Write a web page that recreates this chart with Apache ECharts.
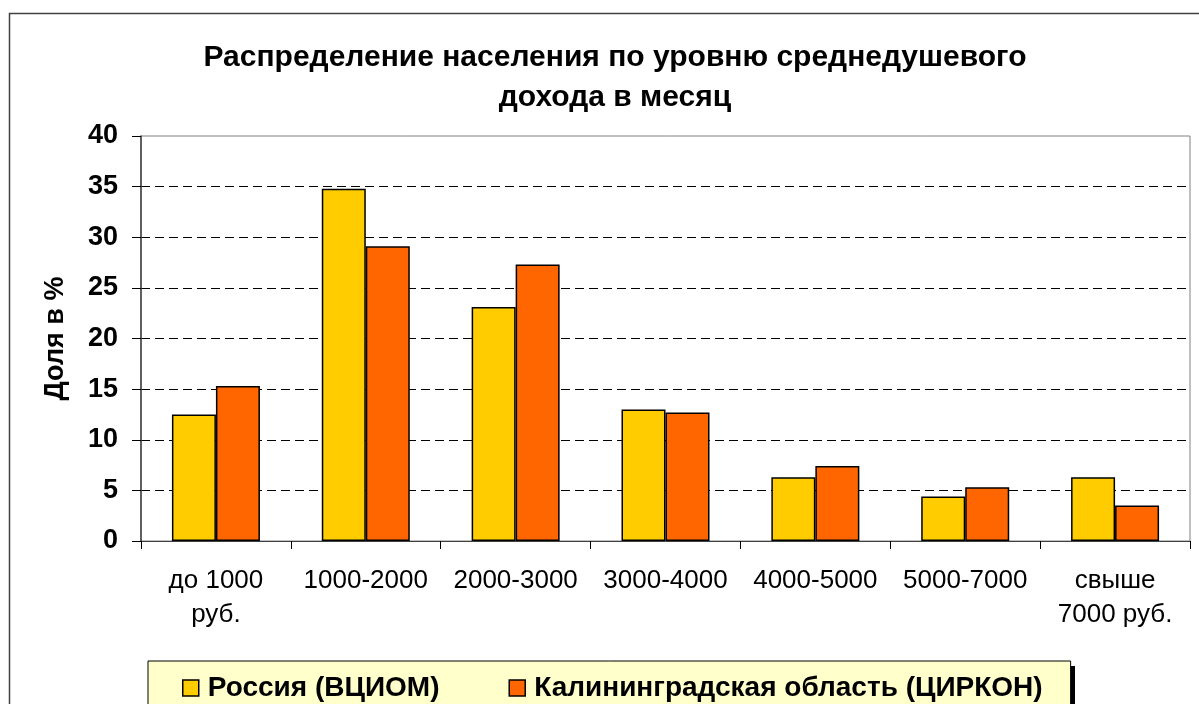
<!DOCTYPE html>
<html>
<head>
<meta charset="utf-8">
<script src="https://cdn.jsdelivr.net/npm/echarts@6/dist/echarts.min.js"></script>
<style>
  html, body { margin: 0; padding: 0; background: #fff; }
  #chart { width: 1199px; height: 704px; }
</style>
</head>
<body>
<div id="chart"></div>
<script>
var categories = ['до 1000\nруб.', '1000-2000', '2000-3000', '3000-4000', '4000-5000', '5000-7000', 'свыше\n7000 руб.'];
var russia = [12.5, 34.8, 23.1, 13.0, 6.3, 4.4, 6.3];
var kaliningrad = [15.3, 29.1, 27.3, 12.7, 7.4, 5.3, 3.5];
var seriesNames = ['Россия (ВЦИОМ)', 'Калининградская область (ЦИРКОН)'];

var FONT = "'Liberation Sans', Arial, sans-serif";

var chart = echarts.init(document.getElementById('chart'));

var option = {
    backgroundColor: '#fff',
    animation: false,
    textStyle: { fontFamily: FONT },
    title: {
        text: 'Распределение населения по уровню среднедушевого\nдохода в месяц',
        left: 610,
        top: 33,
        textAlign: 'center',
        textStyle: {
            fontFamily: FONT,
            fontSize: 30,
            fontWeight: 'bold',
            color: '#000',
            lineHeight: 40
        }
    },
    graphic: [{
        // рамка всей диаграммы
        type: 'rect',
        shape: { x: 9.5, y: 13.5, width: 1300, height: 800 },
        style: { fill: null, stroke: '#404040', lineWidth: 1.5 },
        silent: true,
        z: -1
    }, {
        // тень под легендой
        type: 'rect',
        shape: { x: 153, y: 666, width: 922, height: 100 },
        style: { fill: '#000' },
        silent: true,
        z: 0
    }],
    legend: {
        left: 148,
        top: 661,
        padding: [12, 28, 40, 34],
        itemWidth: 16,
        itemHeight: 16,
        itemGap: 69,
        icon: 'rect',
        backgroundColor: '#FFFFCC',
        borderColor: '#000',
        borderWidth: 1,
        z: 5,
        itemStyle: { borderColor: '#000', borderWidth: 1.5 },
        textStyle: {
            fontFamily: FONT,
            fontSize: 28,
            fontWeight: 'bold',
            color: '#000',
            lineHeight: 30,
            padding: [0, 0, 0, 4]
        },
        data: seriesNames
    },
    grid: {
        left: 141,
        top: 136,
        right: 9,
        bottom: 163,
        show: true,
        borderColor: '#808080',
        borderWidth: 1,
        containLabel: false
    },
    xAxis: {
        type: 'category',
        data: categories,
        axisLine: { lineStyle: { color: '#404040', width: 1 } },
        axisTick: { show: true, length: 8, lineStyle: { color: '#000' } },
        axisLabel: {
            fontFamily: FONT,
            fontSize: 26,
            color: '#000',
            lineHeight: 34,
            margin: 23,
            interval: 0
        }
    },
    yAxis: {
        type: 'value',
        min: 0,
        max: 40,
        interval: 5,
        name: 'Доля в %',
        nameLocation: 'middle',
        nameRotate: 90,
        nameGap: 72,
        nameTextStyle: {
            fontFamily: FONT,
            fontSize: 27,
            fontWeight: 'bold',
            color: '#000'
        },
        axisLine: { show: true, lineStyle: { color: '#404040', width: 1.5 } },
        axisTick: { show: true, length: 9, inside: false, lineStyle: { color: '#000' } },
        axisLabel: {
            fontFamily: FONT,
            fontSize: 27,
            fontWeight: 'bold',
            color: '#000',
            margin: 23
        },
        splitLine: {
            show: true,
            showMaxLine: false,
            showMinLine: false,
            lineStyle: { color: '#000', type: [9, 5], width: 1 }
        }
    },
    series: [{
        name: seriesNames[0],
        type: 'bar',
        data: russia,
        barWidth: 44,
        barGap: '0%',
        itemStyle: { color: '#FFCC00', borderColor: '#000', borderWidth: 1.5 }
    }, {
        name: seriesNames[1],
        type: 'bar',
        data: kaliningrad,
        barWidth: 44,
        barGap: '0%',
        itemStyle: { color: '#FF6600', borderColor: '#000', borderWidth: 1.5 }
    }]
};

chart.setOption(option);
</script>
</body>
</html>
